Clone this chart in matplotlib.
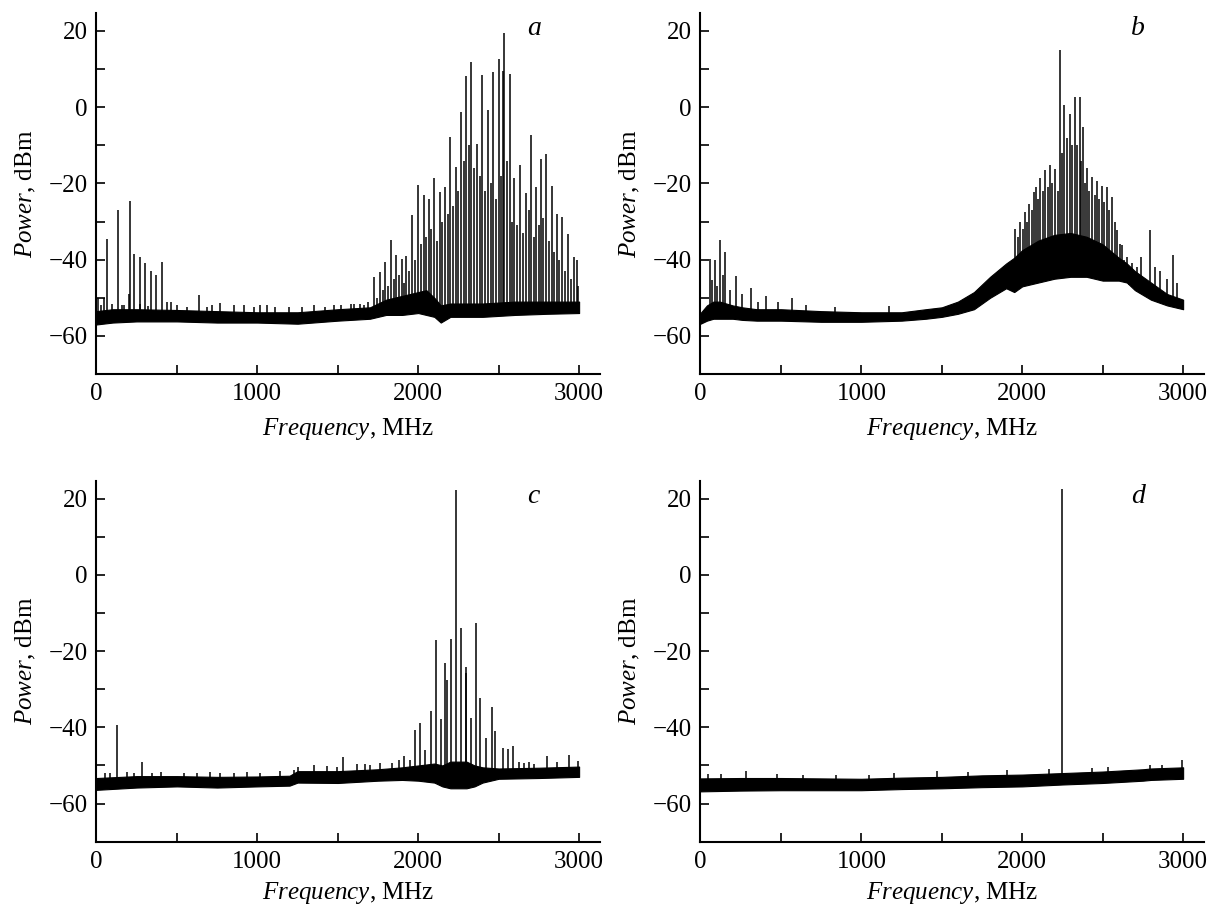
import numpy as np
import matplotlib
matplotlib.use("Agg")
import matplotlib.pyplot as plt
from matplotlib.ticker import MultipleLocator

plt.rcParams['font.family'] = ['Liberation Serif', 'DejaVu Serif']
plt.rcParams['mathtext.fontset'] = 'custom'
plt.rcParams['mathtext.it'] = 'Liberation Serif:italic'
plt.rcParams['mathtext.rm'] = 'Liberation Serif'

# ---------------- panel a ----------------
a_knot_f = [0, 100, 250, 500, 750, 1000, 1250, 1500, 1700, 1750, 1800, 1900, 2000, 2050, 2100, 2140, 2200, 2400, 2600, 2800, 3000]
a_floor_lo = [-57, -56.5, -56.2, -56.2, -56.5, -56.5, -56.8, -56, -55.5, -55, -54.5, -54.5, -54, -54.5, -55, -56.5, -55, -55, -54.5, -54.2, -54]
a_floor_hi = [-53.5, -53, -53, -53.2, -53.5, -53.8, -53.8, -53, -52.5, -51.5, -50.5, -49.5, -48.5, -48, -50, -52, -51.5, -51.5, -51, -51, -51]
a_low_f = [12, 48, 66, 135, 205, 211, 232, 270, 300, 336, 373, 406, 440, 466, 640, 770]
a_low_p = [-50, -50, -34.5, -27, -49, -24.7, -38.6, -39.3, -41, -43.1, -44.1, -40.6, -51, -51, -49.4, -51.4]
a_comb_f = [1728, 1761, 1796, 1831, 1864, 1896, 1927, 1962, 1999, 2034, 2065, 2096, 2134, 2165, 2200, 2236, 2267, 2300, 2331, 2366, 2399, 2434, 2465, 2500, 2534, 2568, 2595, 2632, 2668, 2703, 2734, 2763, 2794, 2829, 2864, 2891, 2933, 2968]
a_comb_p = [-44.6, -43.3, -40.6, -34.9, -38.9, -39.7, -39.1, -28.4, -20.5, -23.1, -24.0, -18.7, -22.3, -20.9, -7.8, -15.7, -1.3, 8.1, 11.9, -9.6, 8.4, -0.8, 9.2, 12.7, 19.4, 8.6, -18.5, -15.2, -22.5, -7.2, -21.0, -13.7, -12.4, -20.6, -28.0, -28.8, -33.2, -39.3]
a_side_f = [1745, 1778, 1813, 1847, 1880, 1912, 1945, 1980, 2016, 2050, 2080, 2115, 2150, 2183, 2218, 2250, 2284, 2316, 2348, 2382, 2416, 2450, 2483, 2517, 2530, 2551, 2582, 2614, 2650, 2686, 2718, 2748, 2778, 2812, 2846, 2878, 2912, 2950, 2985]
a_side_p = [-50, -48, -47, -45, -44, -46, -43, -40, -36, -34, -32, -35, -30, -28, -26, -22, -14, -10, -16, -18, -22, -20, -24, -18, 9.6, -14, -30, -31, -33, -27, -34, -31, -29, -35, -38, -40, -43, -45, -40]
a_grass_f = [30, 97, 160, 170, 273, 320, 501, 560, 690, 720, 853, 915, 980, 1019, 1060, 1110, 1199, 1280, 1350, 1420, 1475, 1520, 1579, 1600, 1640, 1662, 1690, 2995]
a_grass_p = [-52, -51.5, -52, -52, -51.5, -52.2, -52, -52.3, -52.4, -52, -52, -52, -52.4, -52, -52, -52.5, -52.4, -52.3, -52, -52.3, -52, -51.8, -51.5, -51.7, -51.5, -51.8, -51.2, -47]

# ---------------- panel b ----------------
b_knot_f = [0, 40, 80, 120, 160, 200, 260, 350, 500, 750, 1000, 1250, 1400, 1500, 1600, 1700, 1800, 1900, 1950, 2000, 2100, 2200, 2300, 2400, 2500, 2600, 2650, 2700, 2800, 2900, 3000]
b_floor_lo = [-56.8, -56, -55.5, -55.5, -55.5, -55.5, -55.8, -56, -56, -56.3, -56.3, -56, -55.5, -55, -54.2, -53, -50, -47.5, -48.5, -47, -46, -45, -44.5, -44.5, -45.5, -45.5, -46, -48, -50.5, -52, -53]
b_floor_hi = [-54, -52, -51, -51, -51.5, -52, -52.5, -53, -53, -53.5, -53.8, -53.8, -53, -52.5, -51, -48.5, -44.5, -41, -39.5, -37.5, -35, -33.5, -33, -34, -36, -39.5, -41, -43, -46, -49, -50.5]
b_low_f = [58, 72, 89, 105, 124, 139, 155, 186, 221, 255, 311, 357, 407, 484, 567, 658, 833, 1173]
b_low_p = [-39.7, -45.4, -40.2, -47, -34.9, -44, -38, -48, -44.4, -49, -47.4, -51, -49.5, -51, -50, -51.8, -52.4, -52.2]
b_comb_f = [1958, 1989, 2016, 2045, 2072, 2088, 2113, 2144, 2171, 2202, 2237, 2262, 2295, 2326, 2357, 2376, 2403, 2434, 2465, 2496, 2527, 2558, 2589, 2620, 2651, 2682, 2713, 2738, 2796, 2827, 2858, 2899, 2936, 2961]
b_comb_p = [-31.9, -30.1, -27.5, -25.3, -22.3, -20.9, -18.7, -16.6, -15.2, -16.1, 14.9, 0.5, -1.7, 2.7, 2.7, -5.2, -16.0, -18.3, -19.5, -20.8, -21.0, -23.6, -32.3, -36.2, -39.3, -41.0, -42.0, -39.3, -32.3, -42.0, -43.0, -45.0, -38.9, -46.0]
b_side_f = [1974, 2002, 2030, 2058, 2100, 2128, 2157, 2186, 2220, 2250, 2278, 2310, 2341, 2366, 2390, 2418, 2450, 2480, 2511, 2542, 2574, 2605, 2635, 2666, 2698]
b_side_p = [-34, -32, -30, -27, -24, -22, -21, -20, -22, -12, -8, -10, -10, -14, -20, -22, -23, -24, -25, -27, -30, -36, -40, -42, -44]

# ---------------- panel c ----------------
c_knot_f = [0, 250, 500, 750, 1000, 1200, 1250, 1500, 1750, 1900, 2000, 2100, 2150, 2200, 2300, 2350, 2400, 2500, 2750, 3000]
c_floor_lo = [-56.4, -55.8, -55.5, -55.8, -55.5, -55.3, -54.5, -54.6, -54, -53.8, -54, -54.5, -55.5, -56, -56, -55.5, -54.5, -53.5, -53.3, -53]
c_floor_hi = [-53.3, -52.8, -52.8, -53, -52.9, -52.7, -51.5, -51.5, -51, -50.5, -50, -49.5, -50, -49, -49, -50, -50.5, -50.8, -50.6, -50.3]
c_peak_f = [128, 284, 1250, 1494, 1533, 1668, 1838, 1879, 1910, 1948, 1983, 2014, 2045, 2080, 2111, 2139, 2166, 2176, 2205, 2237, 2263, 2294, 2300, 2325, 2356, 2387, 2424, 2459, 2480, 2526, 2559, 2590, 2625, 2688, 2798, 2938]
c_peak_p = [-39.3, -49, -50.3, -50.3, -47.8, -49.6, -49.4, -48.5, -47.5, -48.5, -40.6, -39, -45.9, -35.8, -17.2, -37.7, -23.1, -27.5, -16.8, 22.2, -14, -25.7, -24.3, -37.5, -12.6, -32.3, -42.8, -34.8, -40.9, -45.4, -45.8, -45, -49, -49, -47.6, -47.2]
c_grass_f = [56, 87, 190, 232, 346, 398, 543, 625, 708, 770, 853, 936, 1019, 1143, 1226, 1350, 1433, 1620, 1703, 1765, 2660, 2720, 2860, 2990]
c_grass_p = [-52, -52, -51.8, -52, -52, -51.8, -52, -52, -51.8, -52, -52, -51.6, -52, -51.5, -51.2, -50, -50.2, -49.5, -49.8, -49.3, -49.3, -49.5, -49.2, -48.8]

# ---------------- panel d ----------------
d_knot_f = [0, 250, 500, 750, 1000, 1250, 1500, 1750, 2000, 2250, 2500, 2750, 2800, 3000]
d_floor_lo = [-56.8, -56.6, -56.5, -56.5, -56.5, -56.2, -56, -55.7, -55.5, -55, -54.6, -54, -53.8, -53.5]
d_floor_hi = [-53.4, -53.3, -53.3, -53.4, -53.5, -53.2, -53, -52.6, -52.4, -52, -51.6, -51, -50.8, -50.5]
d_peak_f = [284, 2245, 2995]
d_peak_p = [-51.5, 22.5, -48.5]
d_grass_f = [45, 130, 477, 640, 843, 1050, 1205, 1470, 1663, 1904, 2169, 2434, 2530, 2795, 2867]
d_grass_p = [-52.3, -52.2, -52.2, -52.4, -52.5, -52.4, -52.1, -51.5, -51.6, -51.3, -51, -50.6, -50.5, -49.8, -49.8]

x_ticks = [0, 1000, 2000, 3000]
y_ticks = [-60, -40, -20, 0, 20]

fig = plt.figure(figsize=(12.09, 9.07), dpi=100)
W, H = 0.4165, 0.3977
boxes = {'a': [0.0798, 0.5876, W, H], 'b': [0.5794, 0.5876, W, H],
         'c': [0.0798, 0.072, W, H], 'd': [0.5794, 0.072, W, H]}
xlabel_y = {'a': -0.117, 'b': -0.117, 'c': -0.106, 'd': -0.106}

panels = {
    'a': (a_knot_f, a_floor_lo, a_floor_hi,
          [(a_grass_f, a_grass_p), (a_low_f, a_low_p), (a_side_f, a_side_p), (a_comb_f, a_comb_p)]),
    'b': (b_knot_f, b_floor_lo, b_floor_hi,
          [(b_low_f, b_low_p), (b_side_f, b_side_p), (b_comb_f, b_comb_p)]),
    'c': (c_knot_f, c_floor_lo, c_floor_hi, [(c_grass_f, c_grass_p), (c_peak_f, c_peak_p)]),
    'd': (d_knot_f, d_floor_lo, d_floor_hi, [(d_grass_f, d_grass_p), (d_peak_f, d_peak_p)]),
}

FS = 18
for letter, (kf, lo, hi, lines) in panels.items():
    ax = fig.add_axes(boxes[letter])
    ax.fill_between(kf, lo, hi, color='black', lw=0.8)
    for f, p in lines:
        f = np.asarray(f, float)
        p = np.asarray(p, float)
        base = np.interp(f, kf, lo)
        ax.vlines(f, base, p, color='black', lw=1.1)
    ax.set_xlim(0, 3130)
    ax.set_ylim(-70, 24.6)
    for s in ['top', 'right']:
        ax.spines[s].set_visible(False)
    for s in ['left', 'bottom']:
        ax.spines[s].set_linewidth(1.5)
    ax.set_xticks(x_ticks)
    ax.set_yticks(y_ticks)
    ax.xaxis.set_minor_locator(MultipleLocator(500))
    ax.yaxis.set_minor_locator(MultipleLocator(10))
    ax.tick_params(which='both', direction='in', length=6.5, width=1.2,
                   labelsize=FS, pad=6.5)
    ax.set_xlabel(r'$\mathit{Frequency}$, MHz', fontsize=FS)
    ax.set_ylabel(r'$\mathit{Power}$, dBm', fontsize=FS)
    ax.xaxis.set_label_coords(0.5, xlabel_y[letter])
    ax.yaxis.set_label_coords(-0.117, 0.5)
    ax.text(0.855, 0.94, letter, transform=ax.transAxes, fontsize=20,
            style='italic', ha='left', va='baseline')

fig.savefig('out.png', dpi=100)
